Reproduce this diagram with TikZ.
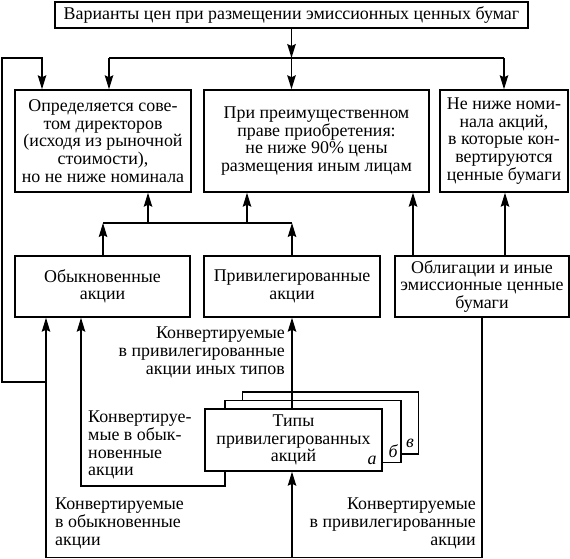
\documentclass[tikz,border=0pt]{standalone}
\usepackage{fontspec}
\setmainfont{Liberation Serif}
\usetikzlibrary{arrows.meta}
\newcommand\myfs{\fontsize{17.9}{17.6}\selectfont}
\begin{document}
\begin{tikzpicture}[x=1pt,y=-1pt,
  box/.style={draw, line width=1.5pt, inner sep=0pt, align=center, font=\myfs, fill=white},
  lbl/.style={inner sep=0pt, font=\myfs},
  ln/.style={line width=1.5pt},
  arr/.style={line width=1.5pt, -{Stealth[length=14pt,width=8.5pt,inset=2pt]}},
  letter/.style={inner sep=0pt, font=\myfs\itshape}]
\useasboundingbox (0,0) rectangle (570,559);
% nodes
\node[box, line width=2.4pt, minimum width=473pt, minimum height=26pt] (T) at (291.5,15)
  {Варианты цен при размещении эмиссионных ценных бумаг};
\node[box, minimum width=176pt, minimum height=102pt] (A) at (103,141)
  {Определяется сове-\\том директоров\\(исходя из рыночной\\стоимости),\\но не ниже номинала};
\node[box, minimum width=225pt, minimum height=102pt] (B) at (316.5,141)
  {При преимущественном\\праве приобретения:\\не ниже 90\% цены\\размещения иным лицам};
\node[box, minimum width=128pt, minimum height=102pt] (C) at (504,141)
  {Не ниже номи-\\нала акций,\\в которые кон-\\вертируются\\ценные бумаги};
\node[box, minimum width=175pt, minimum height=61pt] (D) at (102.5,286.5)
  {Обыкновенные\\акции};
\node[box, minimum width=176pt, minimum height=61pt] (E) at (292,286.5)
  {Привилегированные\\акции};
\node[box, minimum width=174pt, minimum height=61pt] (F) at (482,286.5)
  {Облигации и иные\\эмиссионные ценные\\бумаги};
\node[box, minimum width=176pt, minimum height=62pt] (Tc) at (330.5,423) {};
\node[box, minimum width=176pt, minimum height=62pt] (Tb) at (313,431.5) {};
\node[box, minimum width=177pt, minimum height=62pt] (Ta) at (293.5,440)
  {Типы\\привилегированных\\акций};
\node[letter] (la) at (372,460) {а};
\node[letter] (lb) at (393,451) {б};
\node[letter] (lc) at (410,443) {в};
% labels
\node[lbl, anchor=north east, align=right] (L1) at (285,327)
  {Конвертируемые\\в привилегированные\\акции иных типов};
\node[lbl, anchor=north west, align=left] (L2) at (88,411)
  {Конвертируе-\\мые в обык-\\новенные\\акции};
\node[lbl, anchor=north west, align=left] (L3) at (55,498)
  {Конвертируемые\\в обыкновенные\\акции};
\node[lbl, anchor=north east, align=right] (L4) at (476,498)
  {Конвертируемые\\в привилегированные\\акции};
% coordinates
\coordinate (j0) at (291.5,58);
\coordinate (jl) at (109,58);
\coordinate (jr) at (504,58);
\coordinate (m0) at (103,223);
\coordinate (m1) at (292,223);
\coordinate (lp1) at (46,382);
\coordinate (lp2) at (2,382);
\coordinate (lp3) at (2,58);
\coordinate (lp4) at (42,58);
\coordinate (b1) at (46,557.5);
\coordinate (c1) at (225,486);
\coordinate (c2) at (81,486);
% connectors
\draw[arr] (T.south) -- (j0);
\draw[ln] (jl) -- (jr);
\draw[arr] (jl) -- (jl |- A.north);
\draw[arr] (j0) -- (j0 |- B.north);
\draw[arr] (jr) -- (jr |- C.north);
\draw[arr] (lp1) -- (lp2) -- (lp3) -- (lp4) -- (lp4 |- A.north);
\draw[arr] (D.north -| m0) -- (m0);
\draw[arr] (E.north -| m1) -- (m1);
\draw[ln] (m0) -- (m1);
\draw[arr] (148,223) -- (148,0 |- A.south);
\draw[arr] (247,223) -- (247,0 |- B.south);
\draw[arr] (F.north -| 413,0) -- (413,0 |- B.south);
\draw[arr] (F.north -| 505,0) -- (505,0 |- C.south);
\draw[arr] (F.south) -- (F.south |- b1) -- (b1) -- (b1 |- D.south);
\draw[arr] (E.south |- b1) -- (E.south |- Ta.south);
\draw[arr] (Ta.north -| E.south) -- (E.south);
\draw[arr] (Ta.south -| c1) -- (c1) -- (c2) -- (c2 |- D.south);
\end{tikzpicture}
\end{document}
